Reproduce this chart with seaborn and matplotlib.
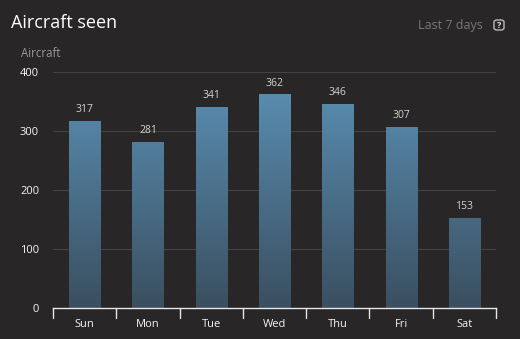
import numpy as np
import pandas as pd
import seaborn as sns
import matplotlib
matplotlib.use("Agg")
import matplotlib.pyplot as plt
from matplotlib.colors import LinearSegmentedColormap
from matplotlib.patches import FancyBboxPatch

days = ["Sun", "Mon", "Tue", "Wed", "Thu", "Fri", "Sat"]
aircraft = [317, 281, 341, 362, 346, 307, 153]
yticks = [0, 100, 200, 300, 400]

BG = "#282626"
sns.set_theme(style="dark")
plt.rcParams["font.family"] = ["Open Sans", "DejaVu Sans"]

fig = plt.figure(figsize=(5.2, 3.39), dpi=100, facecolor=BG)
ax = fig.add_axes([53/520, 1 - 308/339, 443/520, 236/339])
ax.set_facecolor(BG)

df = pd.DataFrame({"day": days, "aircraft": aircraft})
sns.barplot(data=df, x="day", y="aircraft", ax=ax, width=0.49, color="#4f7f9f",
            saturation=1, edgecolor="none", zorder=2)

ax.set_ylim(0, 400)
ax.set_xlim(-0.5, len(days) - 0.5)
ax.set_yticks(yticks)
ax.set_yticklabels([str(v) for v in yticks], color="#f4f4f4", fontsize=8)
ax.tick_params(axis="y", length=0, pad=10)
ax.set_xticks(range(len(days)))
ax.set_xticklabels(days, color="#f4f4f4", fontsize=8)
ax.tick_params(axis="x", length=0, pad=8)
ax.set_xlabel("")
ax.set_ylabel("")
for s in ["top", "right", "left"]:
    ax.spines[s].set_visible(False)
ax.spines["bottom"].set_color("#e8e8e8")
ax.spines["bottom"].set_linewidth(1)
ax.spines["bottom"].set_zorder(5)

# gridlines
for v in yticks[1:]:
    ax.axhline(v, color="#444242", lw=0.8, zorder=1)

# boundary tick marks
for b in np.arange(-0.5, len(days), 1.0):
    ax.plot([b, b], [0, -0.042], transform=ax.get_xaxis_transform(), color="#e8e8e8",
            lw=1, clip_on=False, zorder=5)

# gradient on bars
cmap = LinearSegmentedColormap.from_list("g", ["#3a4f60", "#5b92b6"])
grad = np.linspace(0, 1, 256).reshape(-1, 1)
for p in list(ax.patches):
    x0, w, h = p.get_x(), p.get_width(), p.get_height()
    im = ax.imshow(grad, cmap=cmap, origin="lower", aspect="auto",
                   extent=[x0, x0 + w, 0, 400], zorder=2)
    im.set_clip_path(p)
    p.set_facecolor("none")

# value labels
for i, v in enumerate(aircraft):
    ax.text(i, v + 10, str(v), ha="center", va="bottom", color="#d6d2cc",
            fontsize=7.5)

ax.set_xlim(-0.5, len(days) - 0.5)
ax.set_ylim(0, 400)

# texts
fig.text(11/520, 1 - 28/339, "Aircraft seen", color="#ffffff", fontsize=13, va="baseline")
fig.text(21/520, 1 - 57/339, "Aircraft", color="#9a9a9a", fontsize=8.3, va="baseline")
fig.text(483/520, 1 - 29/339, "Last 7 days", color="#777777", fontsize=9, ha="right", va="baseline")
box = FancyBboxPatch((494/520, 1 - 30/339), 10/520, 10/339,
                     boxstyle="round,pad=0,rounding_size=0.006", transform=fig.transFigure,
                     facecolor="none", edgecolor="#bbbbbb", lw=1)
fig.patches.append(box)
fig.text(499/520, 1 - 25/339, "?", color="#dddddd", fontsize=6.5, ha="center", va="center",
         fontweight="bold")

fig.savefig("out.png", dpi=100, facecolor=BG)
